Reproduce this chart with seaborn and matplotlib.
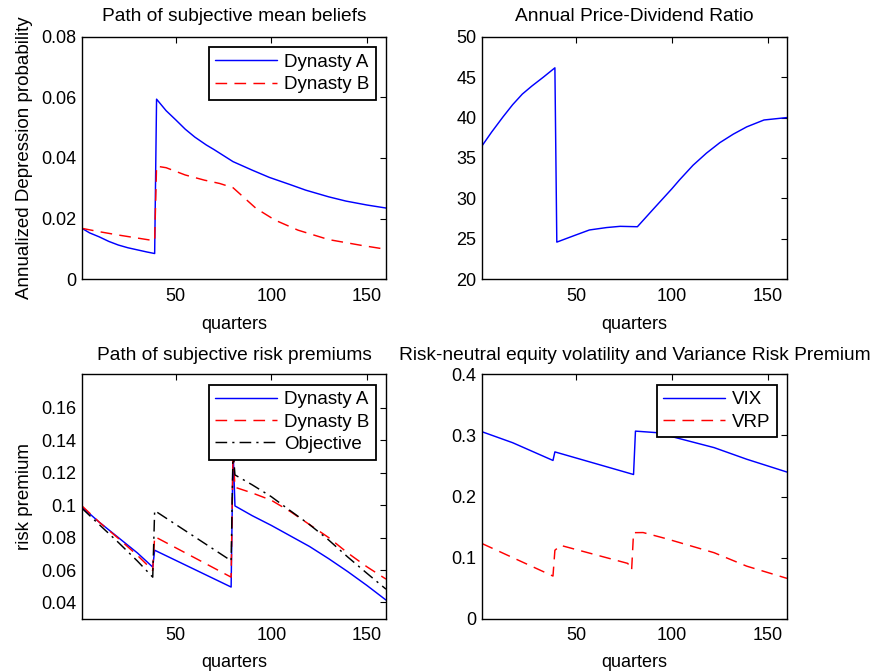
import matplotlib
matplotlib.use("Agg")
import matplotlib.pyplot as plt
import seaborn as sns
from matplotlib.ticker import FuncFormatter

# ---------------- data ----------------
# Panel 1: path of subjective mean beliefs
beliefA_q = [1, 5, 10, 15, 20, 25, 30, 35, 39, 40, 45, 50, 55, 60, 66, 70, 80, 90, 99, 110, 118, 130, 139, 150, 160]
beliefA = [0.0168, 0.0153, 0.0140, 0.0125, 0.0113, 0.0104, 0.0097, 0.0090, 0.0085, 0.0594,
           0.0556, 0.0526, 0.0495, 0.0469, 0.0443, 0.0428, 0.0388, 0.0360, 0.0336, 0.0312,
           0.0294, 0.0272, 0.0258, 0.0245, 0.0235]
beliefB_q = [1, 10, 20, 30, 39, 40, 45, 55, 65, 73, 80, 83, 92, 102, 114, 130, 147, 160]
beliefB = [0.0168, 0.0157, 0.0146, 0.0136, 0.0127, 0.0373, 0.0368, 0.0344, 0.0327, 0.0316,
           0.0302, 0.0285, 0.0234, 0.0195, 0.0162, 0.0131, 0.0112, 0.0099]

# Panel 2: annual price-dividend ratio
pd_q = [1, 6, 12, 17, 22, 27, 33, 39, 40, 49, 57, 66, 73, 82, 90, 100, 104, 111, 118, 125, 132, 139, 148, 160]
pd_ratio = [36.5, 38.2, 40.1, 41.6, 42.9, 43.9, 45.0, 46.15, 24.6, 25.4, 26.1, 26.4, 26.55, 26.5,
            28.6, 31.2, 32.3, 34.1, 35.6, 36.9, 37.95, 38.85, 39.7, 40.0]

# Panel 3: path of subjective risk premiums
rp_q = [1, 10, 20, 30, 38, 39, 79, 80, 81, 90, 100, 110, 120, 130, 140, 150, 160]
rpA = [0.0988, 0.0895, 0.0800, 0.0705, 0.0618, 0.0722, 0.0495, 0.1350, 0.0995, 0.0935,
       0.0875, 0.0810, 0.0745, 0.0670, 0.0590, 0.0505, 0.0415]
rpB = [0.0995, 0.0895, 0.0795, 0.0690, 0.0598, 0.0806, 0.0556, 0.1330, 0.1110, 0.1075,
       0.1030, 0.0960, 0.0880, 0.0800, 0.0705, 0.0620, 0.0544]
rpObj = [0.0980, 0.0880, 0.0770, 0.0655, 0.0556, 0.0966, 0.0657, 0.1340, 0.1186, 0.1125,
         0.1052, 0.0965, 0.0880, 0.0785, 0.0680, 0.0580, 0.0482]

# Panel 4: VIX and variance risk premium
vix_q = [1, 17, 38, 39, 80, 81, 92, 104, 122, 139, 160]
vix = [0.306, 0.288, 0.259, 0.273, 0.236, 0.307, 0.3045, 0.2947, 0.280, 0.261, 0.240]
vrp_q = [1, 38, 39, 42, 77, 79, 80, 85, 97, 122, 139, 160]
vrp = [0.123, 0.0698, 0.112, 0.120, 0.0905, 0.0796, 0.1408, 0.141, 0.131, 0.108, 0.086, 0.066]

titles = ["Path of subjective mean beliefs", "Annual Price-Dividend Ratio",
          "Path of subjective risk premiums",
          "Risk-neutral equity volatility and Variance Risk Premium"]
x_ticks = [50, 100, 150]
yticks1 = [0, 0.02, 0.04, 0.06, 0.08]
yticks2 = [20, 25, 30, 35, 40, 45, 50]
yticks3 = [0.04, 0.06, 0.08, 0.1, 0.12, 0.14, 0.16]
yticks4 = [0, 0.1, 0.2, 0.3, 0.4]

# ---------------- style ----------------
sns.set_style("white")
plt.rcParams['font.family'] = ['Liberation Sans', 'DejaVu Sans']
plt.rcParams['text.color'] = 'black'
plt.rcParams['axes.labelcolor'] = 'black'
FS = 13
TFS = 13.8
LFS = 13.5

fig = plt.figure(figsize=(8.75, 6.72), dpi=100)
W, H = 875, 672

def axes_px(l, t, r, b):
    return fig.add_axes([l / W, 1 - b / H, (r - l) / W, (b - t) / H])

ax1 = axes_px(82, 36.7, 386, 279.3)
ax2 = axes_px(482, 36.7, 787, 279.3)
ax3 = axes_px(82, 374.3, 386, 618.7)
ax4 = axes_px(482, 374.3, 787, 618.7)

BLUE, RED, BLACK = (0, 0, 1), (1, 0, 0), (0, 0, 0)
DASH = (8, 5)
DASHDOT = (8, 3.5, 1.5, 3.5)

def draw(ax, q, v, color, dashes=None, label=None):
    sns.lineplot(x=q, y=v, ax=ax, color=color, linewidth=1.05, sort=False,
                 estimator=None, legend=False)
    line = ax.lines[-1]
    if dashes is not None:
        line.set_dashes(dashes)
    if label is not None:
        line.set_label(label)
    return line

fmt = FuncFormatter(lambda v, p: "%g" % round(v, 6))

def style(ax, title, yticks, ylim, title_pad, xlabelpad):
    ax.set_xlim(1, 160)
    ax.set_ylim(*ylim)
    ax.set_xticks(x_ticks)
    ax.set_yticks(yticks)
    ax.yaxis.set_major_formatter(fmt)
    ax.tick_params(direction='in', top=True, right=True, length=4, width=0.8,
                   labelsize=FS, colors='black')
    ax.tick_params(axis='x', pad=6)
    ax.tick_params(axis='y', pad=4)
    for s in ax.spines.values():
        s.set_visible(True)
        s.set_color('black')
        s.set_linewidth(1.0)
    ax.set_xlabel("quarters", fontsize=FS, labelpad=xlabelpad)
    ax.set_title(title, fontsize=TFS, pad=title_pad, color='black')
    ax.grid(False)

def legend(ax, handles):
    lg = ax.legend(handles=handles, loc='upper right', fontsize=LFS, frameon=True,
                   fancybox=False, framealpha=1, edgecolor='black',
                   handlelength=3.3, handletextpad=0.35, borderpad=0.35,
                   labelspacing=0.28, borderaxespad=0.55)
    lg.get_frame().set_linewidth(1.3)

# Panel 1
h1 = draw(ax1, beliefA_q, beliefA, BLUE, label="Dynasty A")
h2 = draw(ax1, beliefB_q, beliefB, RED, DASH, label="Dynasty B")
style(ax1, titles[0], yticks1, (0, 0.08), 11, 8)
ax1.set_ylabel("Annualized Depression probability", fontsize=LFS, labelpad=6)
legend(ax1, [h1, h2])

# Panel 2
draw(ax2, pd_q, pd_ratio, BLUE)
style(ax2, titles[1], yticks2, (20, 50), 11, 8)
ax2.set_ylabel("")

# Panel 3
g1 = draw(ax3, rp_q, rpA, BLUE, label="Dynasty A")
g2 = draw(ax3, rp_q, rpB, RED, DASH, label="Dynasty B")
g3 = draw(ax3, rp_q, rpObj, BLACK, DASHDOT, label="Objective")
style(ax3, titles[2], yticks3, (0.03, 0.1806), 10, 7)
ax3.set_ylabel("risk premium", fontsize=LFS, labelpad=6)
legend(ax3, [g1, g2, g3])

# Panel 4
k1 = draw(ax4, vix_q, vix, BLUE, label="VIX")
k2 = draw(ax4, vrp_q, vrp, RED, DASH, label="VRP")
style(ax4, titles[3], yticks4, (0, 0.4), 10, 7)
ax4.set_ylabel("")
legend(ax4, [k1, k2])

fig.savefig("out.png", dpi=100, facecolor='white')
